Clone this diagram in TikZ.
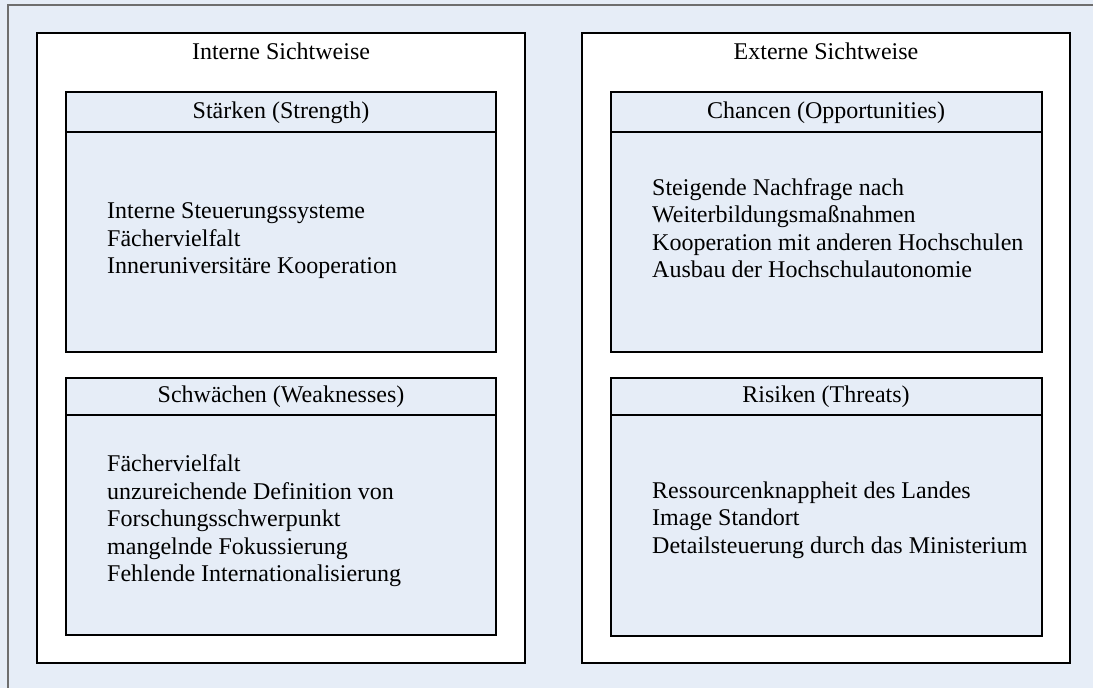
\documentclass[tikz,border=0pt]{standalone}
\usepackage{fontspec}
\setmainfont{Liberation Serif}
\definecolor{bgblue}{RGB}{230,237,247}
\definecolor{framegray}{RGB}{110,110,110}
\begin{document}
\begin{tikzpicture}[x=1pt,y=-1pt,
  font=\fontsize{24}{27.5}\selectfont,
  sidebox/.style={draw=black, line width=1.4pt, fill=white},
  panel/.style={draw=black, line width=1.2pt, fill=bgblue},
  heading/.style={anchor=center, inner sep=0pt},
  body/.style={anchor=west, align=left, inner sep=0pt}]
  \useasboundingbox (0,0) rectangle (1093,688);
  % page background
  \fill[bgblue] (0,0) rectangle (1093,688);
  \draw[framegray, line width=1.2pt] (8,700) -- (8,5) -- (1100,5);

  % two viewpoint columns
  \draw[sidebox] (37,33) rectangle (525,663);
  \draw[sidebox] (582,33) rectangle (1070,663);
  \node[heading] (lt) at (281,51) {Interne Sichtweise};
  \node[heading] (rt) at (826,51) {Externe Sichtweise};

  % SWOT panels with title bars
  \draw[panel] (66,92) rectangle (496,352);
  \draw[line width=1.2pt] (66,132) -- (496,132);
  \draw[panel] (66,378) rectangle (496,635);
  \draw[line width=1.2pt] (66,415) -- (496,415);
  \draw[panel] (611,92) rectangle (1042,352);
  \draw[line width=1.2pt] (611,132) -- (1042,132);
  \draw[panel] (611,378) rectangle (1042,636);
  \draw[line width=1.2pt] (611,415) -- (1042,415);

  \node[heading] (sh) at (281,113) {Stärken (Strength)};
  \node[heading] (wh) at (281,397) {Schwächen (Weaknesses)};
  \node[heading] (oh) at (826,113) {Chancen (Opportunities)};
  \node[heading] (th) at (826,397) {Risiken (Threats)};

  \node[body] (s) at (107,241) {Interne Steuerungssysteme\\Fächervielfalt\\Inneruniversitäre Kooperation};
  \node[body] (w) at (107,521) {Fächervielfalt\\unzureichende Definition von\\Forschungsschwerpunkt\\mangelnde Fokussierung\\Fehlende Internationalisierung};
  \node[body] (o) at (652,228) {Steigende Nachfrage nach\\Weiterbildungsmaßnahmen\\Kooperation mit anderen Hochschulen\\Ausbau der Hochschulautonomie};
  \node[body] (t) at (652,520) {Ressourcenknappheit des Landes\\Image Standort\\Detailsteuerung durch das Ministerium};
\end{tikzpicture}
\end{document}
